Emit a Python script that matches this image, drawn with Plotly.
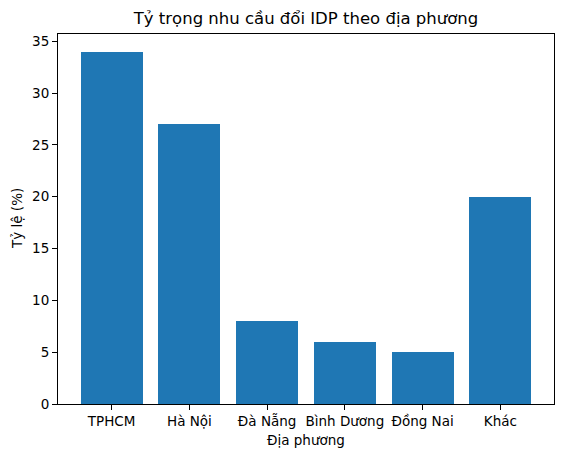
import plotly.graph_objects as go

# data
regions = ['TPHCM', 'Hà Nội', 'Đà Nẵng', 'Bình Dương', 'Đồng Nai', 'Khác']
shares = [34, 27, 8, 6, 5, 20]
y_ticks = [0, 5, 10, 15, 20, 25, 30, 35]

# the page body keeps an 8px margin, so the figure is a bit smaller than the window
W, H = 555, 451
font = 'DejaVu Sans'

fig = go.Figure()
fig.add_trace(go.Bar(x=list(range(len(regions))), y=shares, width=0.8,
                     marker=dict(color='#1f77b4', line=dict(width=0))))

axis_common = dict(showline=True, mirror=True, linecolor='black', linewidth=1.1,
                   ticks='outside', ticklen=5, tickwidth=1.1, tickcolor='black',
                   showgrid=False, zeroline=False,
                   tickfont=dict(family=font, size=13.5, color='black'))

fig.update_layout(
    width=W, height=H,
    margin=dict(l=50, r=9, t=26, b=55),
    plot_bgcolor='white', paper_bgcolor='white',
    showlegend=False,
    bargap=0,
    xaxis=dict(range=[-0.69, 5.69], tickmode='array',
               tickvals=list(range(len(regions))), ticktext=regions, **axis_common),
    yaxis=dict(range=[0, 35.7], tickmode='array', tickvals=y_ticks, **axis_common),
    title=dict(text='Tỷ trọng nhu cầu đổi IDP theo địa phương', x=0.5, xref='paper',
               y=1 - 10 / H, yanchor='middle',
               font=dict(family=font, size=16.5, color='black')),
)

# axis labels placed as annotations in pixel offsets from the plot edges
fig.add_annotation(text='Địa phương', xref='paper', yref='paper', x=0.5, y=0,
                   yanchor='middle', yshift=-36, showarrow=False,
                   font=dict(family=font, size=13.5, color='black'))
fig.add_annotation(text='Tỷ lệ (%)', xref='paper', yref='paper', x=0, y=0.5,
                   xanchor='center', xshift=-41, textangle=-90, showarrow=False,
                   font=dict(family=font, size=13.5, color='black'))

fig.write_html("out.html")
